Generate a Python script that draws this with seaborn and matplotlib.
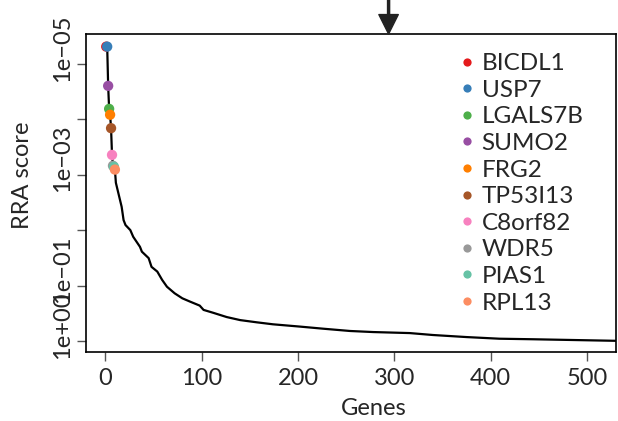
import matplotlib
matplotlib.use("Agg")
import matplotlib.pyplot as plt
import matplotlib.transforms as mtransforms
import seaborn as sns
import pandas as pd

# ranked RRA scores (rank -> score)
ranks = [1, 2, 3, 4, 5, 6, 7, 8, 9, 10, 11, 17, 19, 21, 26, 29, 36, 38, 45, 48,
         54, 59, 64, 72, 80, 88, 98, 102, 112, 126, 140, 157, 174, 202, 226,
         254, 278, 316, 340, 375, 409, 443, 478, 526, 540]
scores = [4.9e-6, 4.9e-6, 2.5e-5, 6.5e-5, 8.3e-5, 1.45e-4, 4.4e-4, 6.9e-4,
          7.2e-4, 8.1e-4, 1.4e-3, 3.8e-3, 6.6e-3, 8.1e-3, 0.010, 0.0132,
          0.020, 0.0245, 0.032, 0.046, 0.056, 0.079, 0.105, 0.138, 0.17,
          0.195, 0.23, 0.275, 0.31, 0.37, 0.42, 0.46, 0.50, 0.55, 0.60, 0.66,
          0.69, 0.72, 0.78, 0.85, 0.91, 0.93, 0.955, 0.99, 1.0]

# top genes, in legend order, with their rank
genes = ["BICDL1", "USP7", "LGALS7B", "SUMO2", "FRG2", "TP53I13",
         "C8orf82", "WDR5", "PIAS1", "RPL13"]
gene_ranks = [1, 2, 4, 3, 5, 6, 7, 8, 9, 10]
gene_colors = ["#E41A1C", "#377EB8", "#4DAF4A", "#984EA3", "#FF7F00",
               "#A65628", "#F781BF", "#999999", "#66C2A5", "#FC8D62"]

yticks = [1e-5, 1e-4, 1e-3, 1e-2, 1e-1, 1e0]
ytick_labels = ["1e\u221205", "", "1e\u221203", "", "1e\u221201", "1e+00"]
xticks = [0, 100, 200, 300, 400, 500]
arrow_rank = 294

curve = pd.DataFrame({"rank": ranks, "score": scores})
lookup = dict(zip(ranks, scores))
top = pd.DataFrame({"gene": genes, "rank": gene_ranks,
                    "score": [lookup[r] for r in gene_ranks]})

sns.set_style("white")
plt.rcParams["font.family"] = ["Lato", "DejaVu Sans"]

fig, ax = plt.subplots(figsize=(6.18, 4.21), dpi=100)
fig.subplots_adjust(left=86 / 618, right=616 / 618,
                    bottom=1 - 352 / 421, top=1 - 34 / 421)

sns.lineplot(data=curve, x="rank", y="score", color="black", lw=1.6, ax=ax)
sns.scatterplot(data=top, x="rank", y="score", hue="gene", hue_order=genes,
                palette=gene_colors, s=55, edgecolor="none", ax=ax, zorder=3)

ax.set_yscale("log")
ax.set_ylim(1.58, 2.9e-6)
ax.set_xlim(-20, 530)
ax.set_xticks(xticks)
ax.set_yticks(yticks)
ax.yaxis.set_minor_locator(matplotlib.ticker.NullLocator())
ax.set_yticklabels([""] * len(yticks))
ax.tick_params(axis="both", length=6.5, width=1, color="#555555",
               labelsize=17, pad=5, left=True, bottom=True)

# y labels drawn by hand, shifted upwards like in the original figure
ytrans = mtransforms.blended_transform_factory(ax.transAxes, ax.transData)
shift = mtransforms.ScaledTranslation(0, 0.16, fig.dpi_scale_trans)
for val, lab in zip(yticks, ytick_labels):
    if lab:
        ax.text(-0.024, val, lab, transform=ytrans + shift, rotation=90,
                ha="right", va="center", fontsize=17)

for side in ["top", "right", "left", "bottom"]:
    ax.spines[side].set_visible(True)
    ax.spines[side].set_color("black")
    ax.spines[side].set_linewidth(1.2)

ax.set_xlabel("Genes", fontsize=17)
ax.set_ylabel("RRA score", fontsize=17)
ax.xaxis.set_label_coords(0.543, -0.145)
ax.xaxis.label.set_va("top")
ax.yaxis.set_label_coords(-0.10, 0.557)

ax.annotate("", xy=(arrow_rank, 1.0), xycoords=("data", "axes fraction"),
            xytext=(arrow_rank, 1.11), textcoords=("data", "axes fraction"),
            arrowprops=dict(facecolor="#222222", edgecolor="#222222",
                            width=1.5, headwidth=14, headlength=14, shrink=0),
            annotation_clip=False)

leg = ax.legend(loc="upper left", bbox_to_anchor=(0.705, 0.94), frameon=False,
                fontsize=17.5, handlelength=0.6, handletextpad=0.3,
                borderpad=0, borderaxespad=0, labelspacing=0.23,
                markerscale=0.8)

fig.savefig("out.png", dpi=100)
